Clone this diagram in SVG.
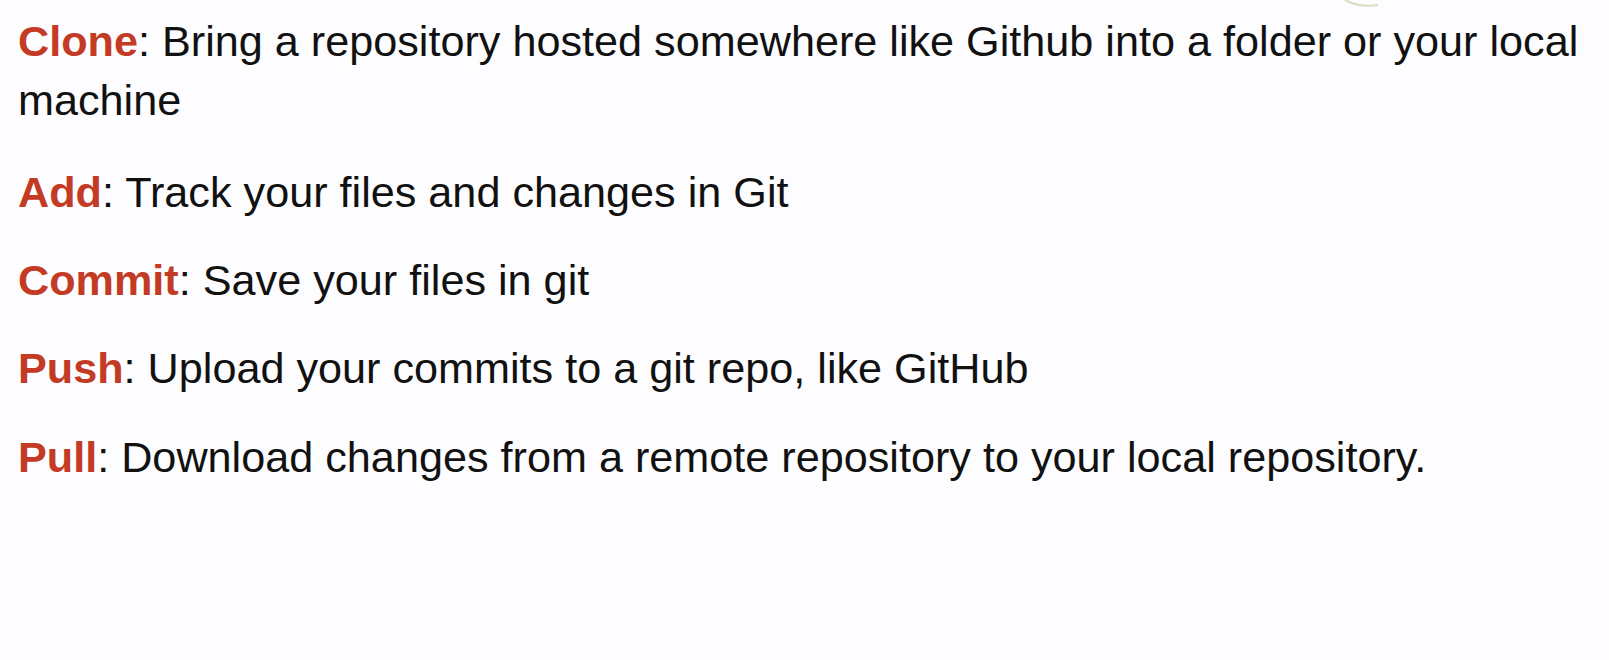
<svg xmlns="http://www.w3.org/2000/svg" width="1609" height="660" viewBox="0 0 1609 660">
<style>
text{font-family:"Liberation Sans",Arial,sans-serif;font-size:43.2px;fill:#111111}
.k{font-weight:bold;fill:#c33b25}
</style>
<rect width="1609" height="660" fill="#fdfcfe"/>
<path d="M1345 0 Q1360 8 1378 5" fill="none" stroke="#d8dcc4" stroke-width="2"/>
<g id="clone"><text x="18" y="56"><tspan class="k">Clone</tspan>: Bring a repository hosted somewhere like Github into a folder or your local</text><text x="18" y="115">machine</text></g>
<g id="add"><text x="18" y="207"><tspan class="k">Add</tspan>: Track your files and changes in Git</text></g>
<g id="commit"><text x="18" y="295"><tspan class="k">Commit</tspan>: Save your files in git</text></g>
<g id="push"><text x="18" y="383"><tspan class="k">Push</tspan>: Upload your commits to a git repo, like GitHub</text></g>
<g id="pull"><text x="18" y="472"><tspan class="k">Pull</tspan>: Download changes from a remote repository to your local repository.</text></g>
<g id="connectors"/>
</svg>
